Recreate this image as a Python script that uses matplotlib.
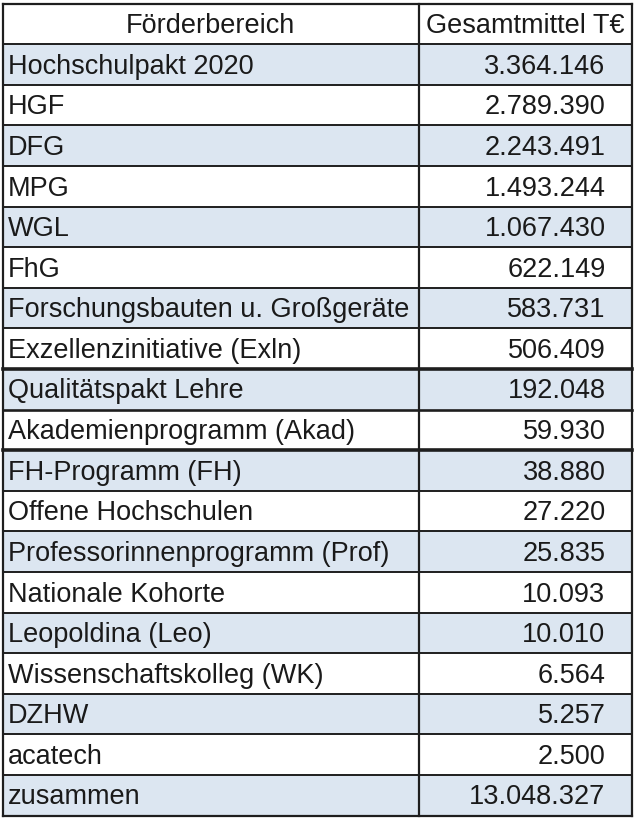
import matplotlib
matplotlib.use("Agg")
import matplotlib.pyplot as plt
from matplotlib.patches import Rectangle

header = ["Förderbereich", "Gesamtmittel T€"]
categories = [
    "Hochschulpakt 2020", "HGF", "DFG", "MPG", "WGL", "FhG",
    "Forschungsbauten u. Großgeräte", "Exzellenzinitiative (Exln)",
    "Qualitätspakt Lehre", "Akademienprogramm (Akad)", "FH-Programm (FH)",
    "Offene Hochschulen", "Professorinnenprogramm (Prof)", "Nationale Kohorte",
    "Leopoldina (Leo)", "Wissenschaftskolleg (WK)", "DZHW", "acatech", "zusammen",
]
values = [
    3364146, 2789390, 2243491, 1493244, 1067430, 622149, 583731, 506409,
    192048, 59930, 38880, 27220, 25835, 10093, 10010, 6564, 5257, 2500,
    13048327,
]
border_weights = {9: 2.6, 10: 1.9, 11: 2.6}  # row-boundary index -> line width


def fmt(v):
    return f"{v:,}".replace(",", ".")


W, H = 636, 818
fig = plt.figure(figsize=(W / 100, H / 100), dpi=100)
ax = fig.add_axes([0, 0, 1, 1])
ax.set_xlim(0, W)
ax.set_ylim(H, 0)
ax.axis("off")

x0, x1, x2 = 2.5, 418.5, 631.5
y0, y1 = 3.5, 815.5
nrows = len(categories) + 1
rh = (y1 - y0) / nrows
shade = "#dce6f1"
line_c = "#1e1e1e"
txt_c = "#1a1a1a"
font = "Liberation Sans"
fs = 19.5

for i in range(len(categories)):
    top = y0 + (i + 1) * rh
    if i % 2 == 0:
        ax.add_patch(Rectangle((x0, top), x2 - x0, rh, facecolor=shade,
                               edgecolor="none", zorder=1))


def baseline(r):
    return y0 + (r + 1) * rh - 11


ax.text((x0 + x1) / 2, baseline(0), header[0], ha="center", va="baseline",
        fontsize=fs, family=font, color=txt_c, zorder=3)
ax.text((x1 + x2) / 2, baseline(0), header[1], ha="center", va="baseline",
        fontsize=fs, family=font, color=txt_c, zorder=3)

for i, (c, v) in enumerate(zip(categories, values)):
    yb = baseline(i + 1)
    ax.text(x0 + 5.5, yb, c, ha="left", va="baseline", fontsize=fs,
            family=font, color=txt_c, zorder=3)
    ax.text(x2 - 26, yb, fmt(v), ha="right", va="baseline", fontsize=fs,
            family=font, color=txt_c, zorder=3)

for r in range(nrows + 1):
    y = y0 + r * rh
    lw = border_weights.get(r, 1.4)
    if r in (0, nrows):
        lw = 1.6
    ax.plot([x0, x2], [y, y], color=line_c, lw=lw, zorder=4,
            solid_capstyle="projecting")
for x in (x0, x1, x2):
    ax.plot([x, x], [y0, y1], color=line_c, lw=1.6, zorder=4,
            solid_capstyle="projecting")

fig.savefig("out.png", dpi=100)
